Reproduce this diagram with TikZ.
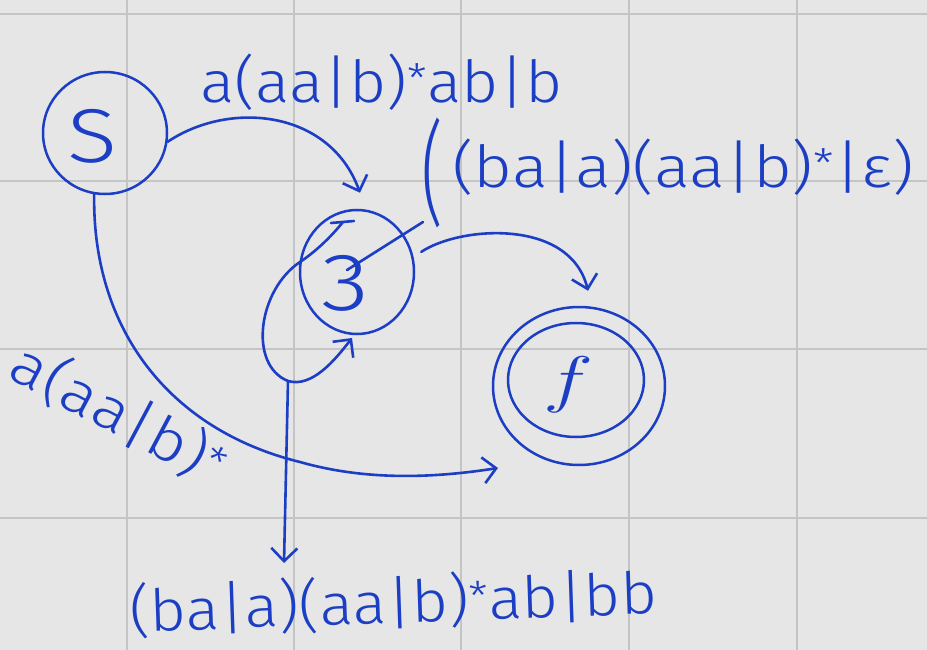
\documentclass[tikz,border=0pt]{standalone}
\usepackage{fontspec}
\usepackage{graphicx}
\setmainfont{Fira Sans Light}
\usetikzlibrary{shapes.geometric,arrows.meta,calc}
\definecolor{ink}{RGB}{28,62,196}
\definecolor{paper}{RGB}{230,230,230}
\definecolor{gridc}{RGB}{196,196,196}
\newcommand{\hwfit}[2]{\resizebox{#1}{\height}{#2}}
\begin{document}
\begin{tikzpicture}[x=1pt,y=-1pt,
  pen/.style={draw=ink,line width=2.6pt,line cap=round,line join=round},
  hw/.style={text=ink,font=\fontsize{58}{66}\selectfont,inner sep=0pt},
  statebox/.style={draw=ink,line width=2.5pt,ellipse,inner sep=0pt},
  tip/.style={-{Straight Barb[length=13pt,width=26pt]}},
  gridline/.style={draw=gridc,line width=1.8pt}
]
\useasboundingbox (0,0) rectangle (927,650);
\fill[paper] (0,0) rectangle (927,650);
\foreach \gx in {127,294,461,629,797} \draw[gridline] (\gx,0) -- (\gx,650);
\foreach \gy in {14,181,349,518} \draw[gridline] (0,\gy) -- (927,\gy);

% states
\node[statebox,minimum width=124pt,minimum height=122pt] (S) at (105,133) {};
\node[hw] (Stx) at (92,136) {\resizebox*{50pt}{54pt}{S}};
\node[statebox,minimum width=114pt,minimum height=124pt] (q3) at (357,272) {};
\node[hw] (q3tx) at (345,283) {\resizebox*{48pt}{56pt}{3}};
\node[statebox,minimum width=172pt,minimum height=158pt] (F) at (579,386) {};
\node[statebox,minimum width=136pt,minimum height=114pt] (Fin) at (576,380) {};
\node[hw] (Ftx) at (568,385) {\resizebox*{50pt}{56pt}{$f$}};

% S -> 3
\draw[pen,tip] (S.-8) .. controls (230,100) and (330,110) .. ($(q3.north)+(3,-16)$);
% 3 -> F
\draw[pen,tip] ($(q3.20)+(9,0)$) .. controls (460,226) and (570,218) .. ($(F.north)+(9,-15)$);
% S -> F
\draw[pen,tip] (S.-100) .. controls (92,330) and (170,430) .. (300,462)
  .. controls (370,482) and (440,477) .. ($(F.center)+(-81,82)$);
% loop on 3
\coordinate (lp) at (288,381);
\draw[pen,tip] ($(q3.center)+(-14,-50)$) .. controls (330,238) and (315,252) .. (300,262)
  .. controls (258,290) and (248,365) .. (lp)
  .. controls (312,388) and (335,360) .. ($(q3.center)+(-5,66)$);
\draw[pen] ($(q3.center)+(-26,-49)$) -- ($(q3.center)+(-3,-51)$);
% pointer from loop to its label
\coordinate (lptip) at (284,563);
\draw[pen,tip] (lp) -- (lptip);
% pointer from 3->F label into 3
\draw[pen] ($(q3.center)+(66,-50)$) -- ($(q3.center)+(-10,-2)$);

% labels
\node[hw,anchor=base west] (l1) at (200,103) {\hwfit{362pt}{a(aa|b)\textsuperscript{*}ab|b}};
\node[hw] (l2p) at (432,173) {\resizebox*{22pt}{110pt}{(}};
\node[hw,anchor=base west] (l2) at (452,188) {\hwfit{462pt}{(ba|a)(aa|b)\textsuperscript{*}|ε)}};
\node[hw,rotate=-28] (l3) at (119,414) {\hwfit{235pt}{a(aa|b)\textsuperscript{*}}};
\node[hw,anchor=base west,rotate=2] (l4) at (130,632) {\hwfit{528pt}{(ba|a)(aa|b)\textsuperscript{*}ab|bb}};
\end{tikzpicture}
\end{document}
